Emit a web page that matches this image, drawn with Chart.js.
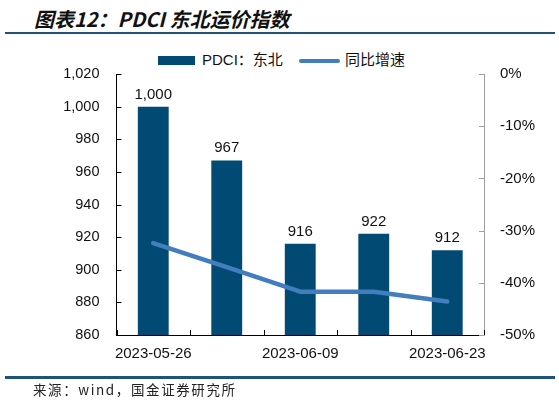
<!doctype html>
<html lang="zh">
<head>
    <meta charset="utf-8">
    <title>PDCI 东北运价指数</title>
    <script src="https://cdn.jsdelivr.net/npm/chart.js@4.4.0/dist/chart.umd.min.js"></script>
    <style>
        body { margin: 0; width: 559px; height: 404px; position: relative; background: #fff; overflow: hidden; }
        #title { position: absolute; left: 34px; top: 4px; font: italic bold 20px "Noto Sans CJK SC", sans-serif; color: #111; }
        .rule { position: absolute; left: 5px; width: 550px; background: #1f5478; }
        #legend { position: absolute; top: 50px; left: 0; width: 559px; font: 15px "Liberation Sans", "Noto Sans CJK SC", sans-serif; color: #111; }
        .item { position: absolute; top: 0; line-height: 20px; white-space: nowrap; }
        .sw { position: absolute; }
        #source { position: absolute; left: 33px; top: 379px; font: 13.5px "Noto Sans CJK SC", monospace; letter-spacing: 1.6px; color: #222; }
        #chart { position: absolute; left: 0; top: 0; }
    </style>
</head>
<body>
    <div id="title">图表12：PDCI 东北运价指数</div>
    <div class="rule" style="top:32px;height:1.5px"></div>
    <div id="legend">
        <div class="sw" style="left:158px;top:6px;width:37px;height:9px;background:#004a73"></div>
        <div class="item" style="left:202px">PDCI：东北</div>
        <div class="sw" style="left:299px;top:8.5px;width:41px;height:4px;border-radius:2px;background:#427dbe"></div>
        <div class="item" style="left:345px">同比增速</div>
    </div>
    <canvas id="chart" width="559" height="404"></canvas>
    <div class="rule" style="top:376px;height:2.5px"></div>
    <div id="source">来源：wind，国金证券研究所</div>

    <script>
        var dates = ['2023-05-26', '2023-06-02', '2023-06-09', '2023-06-16', '2023-06-23'];
        var pdciNortheast = [1000, 967, 916, 922, 912];
        var yoyGrowth = [-32.4, -37.0, -41.7, -41.7, -43.6];
        var leftTicks = [860, 880, 900, 920, 940, 960, 980, 1000, 1020];
        var rightTicks = [-50, -40, -30, -20, -10, 0];

        // inward tick marks on all three axes
        var innerTicks = {
            id: 'innerTicks',
            afterDraw: function(chart) {
                var ctx = chart.ctx;
                var area = chart.chartArea;
                var x = chart.scales.x, y = chart.scales.y, y1 = chart.scales.y1;
                ctx.save();
                ctx.lineWidth = 1;
                ctx.strokeStyle = '#000';
                ctx.beginPath();
                leftTicks.forEach(function(v) {
                    var py = Math.round(y.getPixelForValue(v)) + 0.5;
                    ctx.moveTo(area.left, py);
                    ctx.lineTo(area.left + 5, py);
                });
                for (var i = 0; i <= dates.length; i++) {
                    var px = Math.round(x.getPixelForValue(i - 0.5)) + 0.5;
                    ctx.moveTo(px, area.bottom);
                    ctx.lineTo(px, area.bottom - 5);
                }
                ctx.stroke();
                ctx.strokeStyle = '#a0a0a0';
                ctx.beginPath();
                rightTicks.forEach(function(v) {
                    var py = Math.round(y1.getPixelForValue(v)) + 0.5;
                    ctx.moveTo(area.right, py);
                    ctx.lineTo(area.right - 5, py);
                });
                ctx.stroke();
                ctx.restore();
            }
        };

        var barLabels = {
            id: 'barLabels',
            afterDatasetsDraw: function(chart) {
                var ctx = chart.ctx;
                var meta = chart.getDatasetMeta(1);
                ctx.save();
                ctx.font = '15px "Liberation Sans", Arial, sans-serif';
                ctx.fillStyle = '#111';
                ctx.textAlign = 'center';
                ctx.textBaseline = 'alphabetic';
                meta.data.forEach(function(bar, i) {
                    ctx.fillText(pdciNortheast[i].toLocaleString('en-US'), bar.x, bar.y - 8);
                });
                ctx.restore();
            }
        };

        var fontFamily = '"Liberation Sans", Arial, sans-serif';

        new Chart(document.getElementById('chart').getContext('2d'), {
            data: {
                labels: dates,
                datasets: [{
                    type: 'line',
                    label: '同比增速',
                    data: yoyGrowth,
                    yAxisID: 'y1',
                    borderColor: '#427dbe',
                    borderWidth: 4.5,
                    borderCapStyle: 'round',
                    borderJoinStyle: 'round',
                    pointRadius: 0,
                    tension: 0,
                    order: 0
                }, {
                    type: 'bar',
                    label: 'PDCI：东北',
                    data: pdciNortheast,
                    yAxisID: 'y',
                    backgroundColor: '#004a73',
                    categoryPercentage: 1,
                    barPercentage: 0.42,
                    order: 1
                }]
            },
            options: {
                responsive: false,
                animation: false,
                devicePixelRatio: 1,
                layout: { padding: { left: 0, right: 0, top: 74, bottom: 29 } },
                plugins: { legend: { display: false }, tooltip: { enabled: false } },
                scales: {
                    x: {
                        offset: true,
                        grid: { display: false, drawTicks: false },
                        border: { display: true, color: '#000', width: 1 },
                        ticks: {
                            autoSkip: false,
                            maxRotation: 0,
                            padding: 10,
                            color: '#111',
                            font: { family: fontFamily, size: 15 },
                            callback: function(v, i) { return i % 2 === 0 ? dates[i] : ''; }
                        },
                        afterFit: function(s) { s.height = 40; }
                    },
                    y: {
                        position: 'left',
                        min: 860,
                        max: 1020,
                        afterBuildTicks: function(s) { s.ticks = leftTicks.map(function(v) { return { value: v }; }); },
                        grid: { display: false, drawTicks: false },
                        border: { display: true, color: '#000', width: 1 },
                        ticks: {
                            padding: 17,
                            color: '#111',
                            font: { family: fontFamily, size: 14.5 },
                            callback: function(v) { return v.toLocaleString('en-US'); }
                        },
                        afterFit: function(s) { s.width = 116.5; }
                    },
                    y1: {
                        position: 'right',
                        min: -50,
                        max: 0,
                        afterBuildTicks: function(s) { s.ticks = rightTicks.map(function(v) { return { value: v }; }); },
                        grid: { display: false, drawTicks: false },
                        border: { display: true, color: '#a0a0a0', width: 1 },
                        ticks: {
                            padding: 16,
                            color: '#111',
                            font: { family: fontFamily, size: 15 },
                            callback: function(v) { return v + '%'; }
                        },
                        afterFit: function(s) { s.width = 75; }
                    }
                }
            },
            plugins: [innerTicks, barLabels]
        });
    </script>
</body>
</html>
